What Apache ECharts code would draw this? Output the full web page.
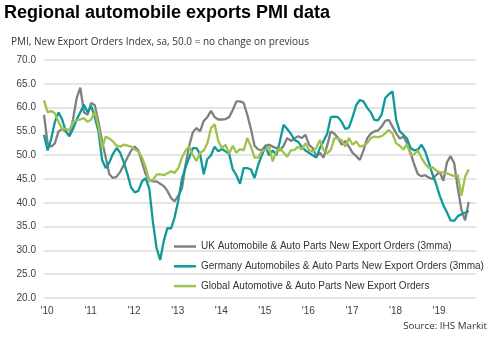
<!DOCTYPE html>
<html>
<head>
<meta charset="utf-8">
<script src="https://cdn.jsdelivr.net/npm/echarts@6/dist/echarts.min.js"></script>
<style>
html,body{margin:0;padding:0;background:#fff;}
#chart{width:501px;height:346px;}
</style>
</head>
<body>
<div id="chart"></div>
<script>
// Tick labels (years) and monthly categories Jan 2010 .. Dec 2019
const yearLabels = ["'10","'11","'12","'13","'14","'15","'16","'17","'18","'19"];
const years = [2010,2011,2012,2013,2014,2015,2016,2017,2018,2019];
const monthNames = ["Jan","Feb","Mar","Apr","May","Jun","Jul","Aug","Sep","Oct","Nov","Dec"];
const categories = [];
years.forEach(y => monthNames.forEach(m => categories.push(m + ' ' + y)));

const seriesNames = [
  'UK Automobile & Auto Parts New Export Orders (3mma)',
  'Germany Automobiles & Auto Parts New Export Orders (3mma)',
  'Global Automotive & Auto Parts New Export Orders'
];

const ukValues = [
  58.5,52.5,51.8,52.5,55.0,55.5,55.0,54.0,57.5,62.0,64.2,59.0,
  58.5,61.0,60.5,57.0,53.0,49.5,46.0,45.2,45.5,46.5,48.0,49.5,
  51.0,51.8,51.0,48.5,46.0,44.8,44.5,44.5,44.0,43.5,42.5,41.0,
  40.3,41.5,43.0,48.0,52.0,54.8,55.7,55.0,57.2,58.0,59.3,58.0,
  57.5,57.5,57.6,58.0,59.5,61.3,61.3,61.0,58.5,55.5,52.0,51.2,
  51.0,52.0,52.2,51.8,51.5,51.0,52.0,53.6,53.0,53.5,54.0,53.6,
  54.3,52.2,51.5,49.7,50.5,49.5,52.0,55.0,54.5,53.6,52.2,53.0,
  51.8,50.5,49.8,49.0,51.0,53.5,54.5,55.0,55.2,56.0,57.2,57.4,
  56.0,54.6,53.5,53.9,52.5,50.5,48.0,46.0,45.6,45.8,45.3,45.0,
  45.8,46.5,44.6,48.5,49.8,48.3,43.0,38.5,36.3,40.2
];
const germanyValues = [
  54.3,51.0,53.5,57.0,59.0,57.5,55.0,54.0,55.5,57.5,59.0,60.6,
  59.0,60.3,58.0,55.0,49.0,47.3,48.5,50.3,51.5,50.5,48.5,46.0,
  43.2,42.2,42.5,44.5,45.2,43.0,36.0,30.5,28.0,32.0,34.7,34.6,
  37.0,40.5,45.0,47.5,49.5,51.5,51.5,50.2,46.0,49.2,50.0,51.8,
  50.8,51.3,50.8,50.3,47.0,45.8,44.0,47.3,47.3,47.0,45.2,48.0,
  50.0,51.8,50.0,51.0,50.0,53.0,56.4,55.5,54.5,53.2,52.8,51.8,
  51.0,50.5,50.0,49.5,51.5,53.0,54.5,58.0,58.1,58.0,57.0,55.5,
  55.8,58.0,60.5,61.6,61.3,60.0,59.0,57.4,57.3,58.5,62.0,62.8,
  63.4,57.5,55.0,54.3,53.5,51.5,51.0,51.2,52.2,50.8,48.5,46.0,
  44.0,41.5,39.5,38.0,36.3,36.2,37.2,37.6,37.9,38.3
];
const globalValues = [
  61.5,59.0,59.3,58.8,57.0,55.5,55.5,55.3,57.0,57.3,57.5,57.8,
  57.0,57.5,59.2,56.0,51.5,53.9,53.5,52.9,52.0,51.8,52.2,52.0,
  51.8,51.2,50.8,49.5,47.5,44.5,44.8,45.9,46.0,45.8,46.2,46.6,
  46.3,47.3,49.5,51.0,51.8,50.0,48.8,50.5,51.0,52.5,55.7,56.5,
  53.0,51.5,52.2,50.3,52.0,50.5,51.3,51.0,53.6,51.8,49.5,49.5,
  50.8,51.2,51.8,48.7,50.8,51.5,50.5,49.7,51.0,51.1,51.8,51.2,
  52.5,51.1,50.8,51.5,53.2,51.0,50.4,51.1,53.6,53.5,53.2,51.8,
  53.6,52.2,52.9,51.8,52.0,52.5,53.6,53.9,53.8,54.0,54.6,55.3,
  54.5,52.5,52.0,51.2,52.3,50.0,50.2,51.0,49.4,48.2,47.3,47.5,
  46.8,46.4,46.4,46.2,45.9,45.6,45.8,41.5,45.5,47.0
];

const colors = ['#808080', '#0e9a98', '#9fc24f'];

const chart = echarts.init(document.getElementById('chart'), null, {renderer: 'canvas'});
const textFont = 'Liberation Sans, Arial, sans-serif';
chart.setOption({
  animation: false,
  backgroundColor: '#ffffff',
  title: [
    {text: 'Regional automobile exports PMI data', left: 4, top: 4, padding: 0,
     textStyle: {fontFamily: textFont, fontSize: 18, fontWeight: 'bold', color: '#000'}},
    {text: 'PMI, New Export Orders Index, sa, 50.0 = no change on previous', left: 11, top: 37, padding: 0,
     textStyle: {fontFamily: 'Open Sans, sans-serif', fontSize: 10, fontWeight: 'normal', color: '#333'}},
    {text: 'Source: IHS Markit', right: 14, top: 321, padding: 0,
     textStyle: {fontFamily: 'Open Sans, sans-serif', fontSize: 9.8, fontWeight: 'normal', color: '#333'}}
  ],
  grid: {left: 44, right: 25, top: 60, bottom: 48, containLabel: false},
  legend: {
    orient: 'vertical', left: 174, top: 240.5, padding: 0,
    icon: 'rect', itemWidth: 22, itemHeight: 2.5, itemGap: 7.8,
    textStyle: {fontFamily: textFont, fontSize: 10, color: '#333', lineHeight: 12},
    data: seriesNames
  },
  xAxis: {
    type: 'category', data: categories, boundaryGap: false,
    axisLine: {show: false}, axisTick: {show: false},
    splitLine: {show: false},
    axisLabel: {
      interval: (i) => i % 12 === 0,
      formatter: (v, i) => yearLabels[Math.floor(i / 12)],
      fontFamily: textFont, fontSize: 10, color: '#404040', margin: 8,
      padding: [0, 0, 0, 6]
    }
  },
  yAxis: {
    type: 'value', min: 20, max: 70, interval: 5,
    axisLine: {show: false}, axisTick: {show: false},
    axisLabel: {formatter: v => v.toFixed(1), fontFamily: textFont, fontSize: 10, color: '#404040', margin: 8},
    splitLine: {lineStyle: {color: '#dcdcdc', width: 1.5}}
  },
  series: [
    {name: seriesNames[0], type: 'line', data: ukValues, symbol: 'none', lineStyle: {width: 2.3, color: colors[0]}, itemStyle: {color: colors[0]}},
    {name: seriesNames[1], type: 'line', data: germanyValues, symbol: 'none', lineStyle: {width: 2.3, color: colors[1]}, itemStyle: {color: colors[1]}},
    {name: seriesNames[2], type: 'line', data: globalValues, symbol: 'none', lineStyle: {width: 2.3, color: colors[2]}, itemStyle: {color: colors[2]}}
  ]
});
</script>
</body>
</html>
